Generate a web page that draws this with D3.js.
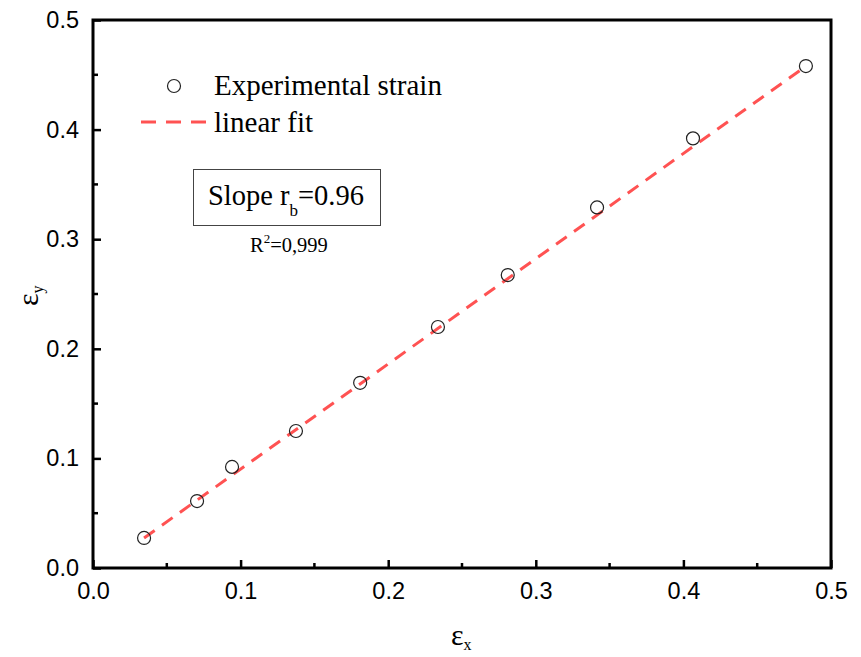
<!DOCTYPE html>
<html>
<head>
<meta charset="utf-8">
<script src="https://cdn.jsdelivr.net/npm/d3@7"></script>
<style>
    body { margin: 0; background: #fff; }
    .tick-label { font-family: "Liberation Sans", Arial, sans-serif; font-size: 23.5px; fill: #000; }
    .serif { font-family: "Liberation Serif", "Times New Roman", serif; fill: #000; }
</style>
</head>
<body>
<div id="chart"></div>
<script>
const strainX = [0.0346, 0.0705, 0.0942, 0.1375, 0.181, 0.2337, 0.281, 0.3415, 0.4065, 0.483];
const strainY = [0.0274, 0.0611, 0.0922, 0.125, 0.169, 0.2199, 0.2673, 0.329, 0.392, 0.458];

// linear fit
const fitSlope = 0.96;
const fitIntercept = -0.0058;

const tickValues = [0, 0.1, 0.2, 0.3, 0.4, 0.5];
const minorTicks = [0.05, 0.15, 0.25, 0.35, 0.45];

// set the dimensions and margins of the graph
const margin = {top: 20, right: 30, bottom: 89, left: 93};
const width = 861 - margin.left - margin.right;
const height = 657 - margin.top - margin.bottom;

const svg = d3.select("#chart").append("svg")
    .attr("width", 861)
    .attr("height", 657)
    .append("g")
    .attr("transform", "translate(" + margin.left + "," + margin.top + ")");

const x = d3.scaleLinear().domain([0, 0.5]).range([0, width]);
const y = d3.scaleLinear().domain([0, 0.5]).range([height, 0]);

// ticks point inward
const xAxis = d3.axisBottom(x).tickValues(tickValues).tickFormat(d3.format(".1f")).tickSizeInner(-8).tickSizeOuter(0).tickPadding(14);
const yAxis = d3.axisLeft(y).tickValues(tickValues).tickFormat(d3.format(".1f")).tickSizeInner(-8).tickSizeOuter(0).tickPadding(14);

const gx = svg.append("g").attr("transform", `translate(0,${height})`).call(xAxis);
const gy = svg.append("g").call(yAxis);

[gx, gy].forEach(g => {
    g.select(".domain").remove();
    g.selectAll(".tick line").attr("stroke", "#000").attr("stroke-width", 2.5);
    g.selectAll(".tick text").attr("class", "tick-label");
});
gx.selectAll(".tick text").attr("dy", "0.71em");

// minor ticks
svg.append("g").selectAll("line")
    .data(minorTicks)
    .enter().append("line")
    .attr("x1", d => x(d)).attr("x2", d => x(d))
    .attr("y1", height).attr("y2", height - 5)
    .attr("stroke", "#000").attr("stroke-width", 2.5);
svg.append("g").selectAll("line")
    .data(minorTicks)
    .enter().append("line")
    .attr("x1", 0).attr("x2", 5)
    .attr("y1", d => y(d)).attr("y2", d => y(d))
    .attr("stroke", "#000").attr("stroke-width", 2.5);

// frame
svg.append("rect")
    .attr("x", 0).attr("y", 0)
    .attr("width", width).attr("height", height)
    .attr("fill", "none")
    .attr("stroke", "#000")
    .attr("stroke-width", 3);

// fit line
const xStart = d3.min(strainX), xEnd = d3.max(strainX);
svg.append("line")
    .attr("x1", x(xStart)).attr("y1", y(fitSlope * xStart + fitIntercept))
    .attr("x2", x(xEnd)).attr("y2", y(fitSlope * xEnd + fitIntercept))
    .attr("stroke", "#ff5252")
    .attr("stroke-width", 3)
    .attr("stroke-dasharray", "13,9");

// points
svg.append("g").selectAll("circle")
    .data(strainX.map((d, i) => ({x: d, y: strainY[i]})))
    .enter().append("circle")
    .attr("cx", d => x(d.x))
    .attr("cy", d => y(d.y))
    .attr("r", 6.5)
    .attr("fill", "none")
    .attr("stroke", "#222")
    .attr("stroke-width", 1.2);

// legend (page coordinates)
const legend = svg.append("g").attr("transform", "translate(-93,-20)");
legend.append("circle")
    .attr("cx", 174).attr("cy", 86).attr("r", 6.5)
    .attr("fill", "none").attr("stroke", "#222").attr("stroke-width", 1.2);
legend.append("text").attr("class", "serif")
    .attr("x", 214).attr("y", 95)
    .style("font-size", "29px")
    .text("Experimental strain");
legend.append("line")
    .attr("x1", 141).attr("x2", 209)
    .attr("y1", 122).attr("y2", 122)
    .attr("stroke", "#ff5252").attr("stroke-width", 3)
    .attr("stroke-dasharray", "15,10");
legend.append("text").attr("class", "serif")
    .attr("x", 214).attr("y", 132)
    .style("font-size", "29px")
    .text("linear fit");

// slope box
legend.append("rect")
    .attr("x", 193.5).attr("y", 169.5)
    .attr("width", 187).attr("height", 56)
    .attr("fill", "none").attr("stroke", "#444").attr("stroke-width", 1);
const slopeText = legend.append("text").attr("class", "serif")
    .attr("x", 208).attr("y", 205)
    .style("font-size", "28.5px");
slopeText.append("tspan").text("Slope r");
slopeText.append("tspan").attr("dy", 11).style("font-size", "17px").text("b");
slopeText.append("tspan").attr("dy", -11).text("=0.96");

const r2Text = legend.append("text").attr("class", "serif")
    .attr("x", 250).attr("y", 252)
    .style("font-size", "20.5px");
r2Text.append("tspan").text("R");
r2Text.append("tspan").attr("dy", -9).style("font-size", "13px").text("2");
r2Text.append("tspan").attr("dy", 9).text("=0,999");

// axis labels
const xLabel = svg.append("text").attr("class", "serif")
    .attr("x", 451 - margin.left).attr("y", 645 - margin.top)
    .style("font-size", "30px");
xLabel.append("tspan").text("ε");
xLabel.append("tspan").attr("dy", 5).style("font-size", "16px").text("x");

const yLabel = svg.append("text").attr("class", "serif")
    .attr("transform", `translate(${38 - margin.left},${306 - margin.top}) rotate(-90)`)
    .style("font-size", "30px");
yLabel.append("tspan").text("ε");
yLabel.append("tspan").attr("dy", 5).style("font-size", "16px").text("y");
</script>
</body>
</html>
